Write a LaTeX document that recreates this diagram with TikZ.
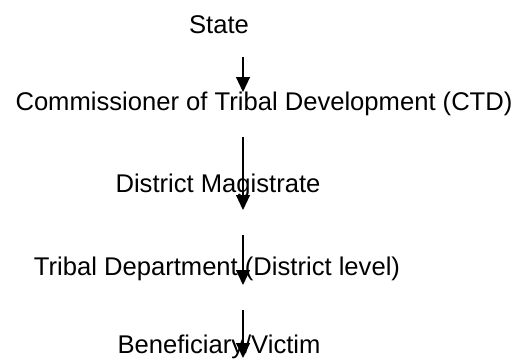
\documentclass[tikz,border=0pt]{standalone}
\usepackage{fontspec}
\setmainfont{Liberation Sans}
\usetikzlibrary{arrows.meta}

\begin{document}
\begin{tikzpicture}[x=1pt, y=-1pt,
                    lbl/.style = {anchor=base, inner sep=0pt, font=\fontsize{25.6}{30}\selectfont},
                    flow/.style = {line width=1.1pt, -{Triangle[width=14pt,length=15pt]}}]
                    \useasboundingbox (0,0) rectangle (519,359);

                    \node[lbl] (state) at (219,33) {State};
                    \node[lbl] (ctd) at (264,110) {Commissioner of Tribal Development (CTD)};
                    \node[lbl] (dm) at (218,192) {District Magistrate};
                    \node[lbl] (td) at (217,275) {Tribal Department (District level)};
                    \node[lbl] (ben) at (219,353) {Beneficiary/Victim};

                    \coordinate (s1) at (243,57);  \coordinate (e1) at (243,92);
                    \coordinate (s2) at (243,137); \coordinate (e2) at (243,210);
                    \coordinate (s3) at (243,235); \coordinate (e3) at (243,285);
                    \coordinate (s4) at (243,310); \coordinate (e4) at (243,358);

                    \draw[flow] (s1) to (e1);
                    \draw[flow] (s2) to (e2);
                    \draw[flow] (s3) to (e3);
                    \draw[flow] (s4) to (e4);
                \end{tikzpicture}
\end{document}
